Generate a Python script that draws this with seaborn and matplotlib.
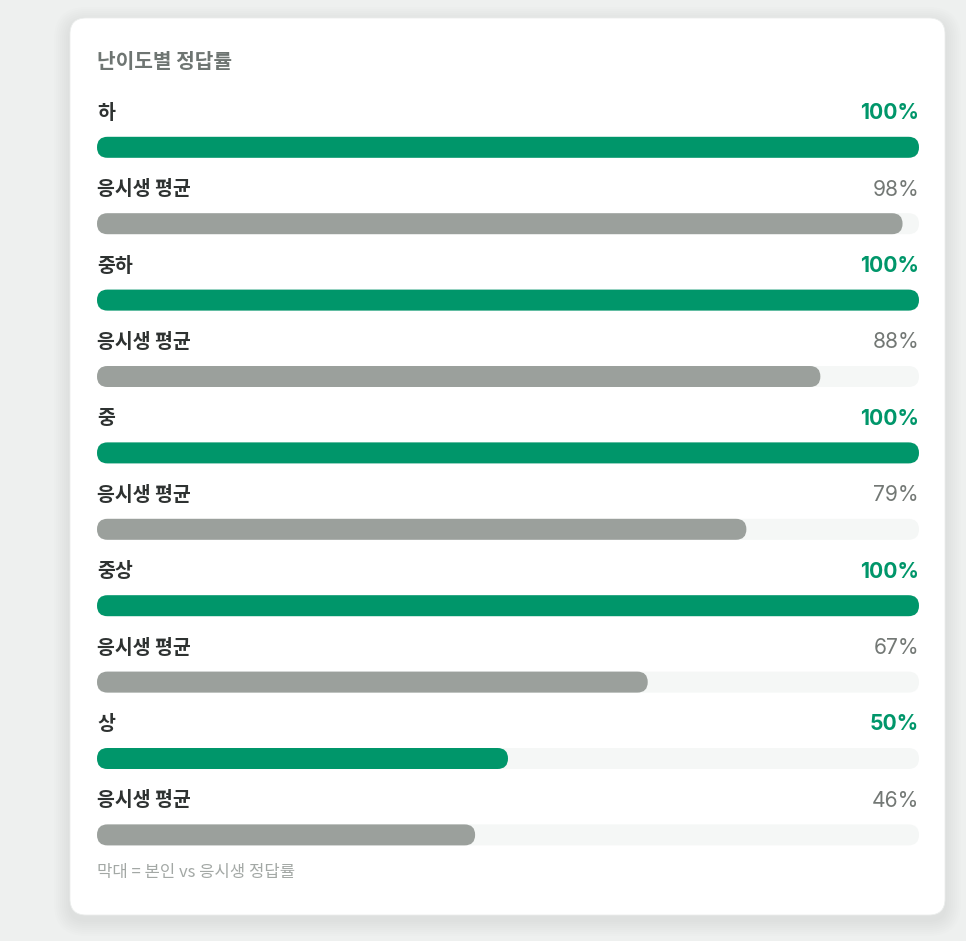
import numpy as np
import pandas as pd
import seaborn as sns
import matplotlib.pyplot as plt
from matplotlib.patches import FancyBboxPatch

# data
levels = ['하', '중하', '중', '중상', '상']
my_rate = [100, 100, 100, 100, 50]
avg_rate = [98, 88, 79, 67, 46]
avg_label = '응시생 평균'
title = '난이도별 정답률'
note = '막대 = 본인 vs 응시생 정답률'

green = '#00966a'
gray = '#9ba09c'
track = '#f5f7f6'

sns.set_theme(style='white')
plt.rcParams['font.family'] = ['Noto Sans CJK KR', 'DejaVu Sans']

# one row per bar: level row, then its average row
labels, values, kinds = [], [], []
for lv, m, a in zip(levels, my_rate, avg_rate):
    labels += [lv, avg_label]
    values += [m, a]
    kinds += ['me', 'avg']
df = pd.DataFrame({'row': np.arange(len(values)), 'label': labels,
                   'value': values, 'kind': kinds})
df['full'] = 100

W, H = 966, 941
fig = plt.figure(figsize=(W / 100, H / 100), dpi=100)
fig.patch.set_facecolor('#eef0ef')

# background axes in pixel coords for the card
bg = fig.add_axes([0, 0, 1, 1])
bg.set_xlim(0, W)
bg.set_ylim(H, 0)
bg.axis('off')
for i in range(8):
    g = 16 - 2 * i
    bg.add_patch(FancyBboxPatch((70 - g, 18 - g + 5), 875 + 2 * g, 897 + 2 * g,
                                boxstyle=f'round,pad=0,rounding_size={16 + g}',
                                fc='black', ec='none', alpha=0.006))
bg.add_patch(FancyBboxPatch((70, 18), 875, 897,
                            boxstyle='round,pad=0,rounding_size=16',
                            fc='white', ec='#eceeed', lw=0.6))
bg.text(97, 61, title, fontsize=14.6, fontweight='bold', color='#6e7572',
        ha='left', va='center')
bg.text(97, 873, note, fontsize=12, color='#a3a8a5', ha='left', va='center')

# bar axes: x 97..919 px, rows centered at 147.3 + 76.4*i px
x0, x1 = 97, 919
yc0, dy = 147.3, 76.4
top_px, bot_px = 90, 870
ax = fig.add_axes([x0 / W, 1 - bot_px / H, (x1 - x0) / W, (bot_px - top_px) / H])
ax.patch.set_alpha(0)
bar_w = 21 / dy

sns.barplot(data=df, x='full', y='row', orient='h', native_scale=True,
            color=track, saturation=1, width=bar_w, errorbar=None, ax=ax)
sns.barplot(data=df, x='value', y='row', hue='kind', orient='h', native_scale=True,
            palette={'me': green, 'avg': gray}, saturation=1, width=bar_w,
            dodge=False, errorbar=None, legend=False, ax=ax)
ax.set_xlim(0, 100)
ax.set_ylim((bot_px - yc0) / dy, (top_px - yc0) / dy)
ax.axis('off')

# rounded ends
px_x = (x1 - x0) / 100
r_px = 10.5
aspect = (r_px / dy) / (r_px / px_x)
for p in list(ax.patches):
    x, y = p.get_x(), p.get_y()
    w, h = p.get_width(), p.get_height()
    fc = p.get_facecolor()
    p.remove()
    if w <= 0:
        continue
    ax.add_patch(FancyBboxPatch((x, y), w, h,
                                boxstyle=f'round,pad=0,rounding_size={r_px / px_x}',
                                mutation_aspect=aspect, fc=fc, ec='none'))

off = 34 / dy
num_font = ['Inter', 'DejaVu Sans']
for _, r in df.iterrows():
    yy = r['row'] - off
    ax.text(0, yy, r['label'], fontsize=14, fontweight='bold', color='#2e3231',
            ha='left', va='center', clip_on=False)
    if r['kind'] == 'me':
        ax.text(100, yy, f"{r['value']}%", fontsize=15.2, fontweight='bold',
                family=num_font, color=green, ha='right', va='center', clip_on=False)
    else:
        ax.text(100, yy, f"{r['value']}%", fontsize=15.2, family=num_font,
                color='#737875', ha='right', va='center', clip_on=False)

fig.savefig('out.png', dpi=100, facecolor=fig.get_facecolor())
